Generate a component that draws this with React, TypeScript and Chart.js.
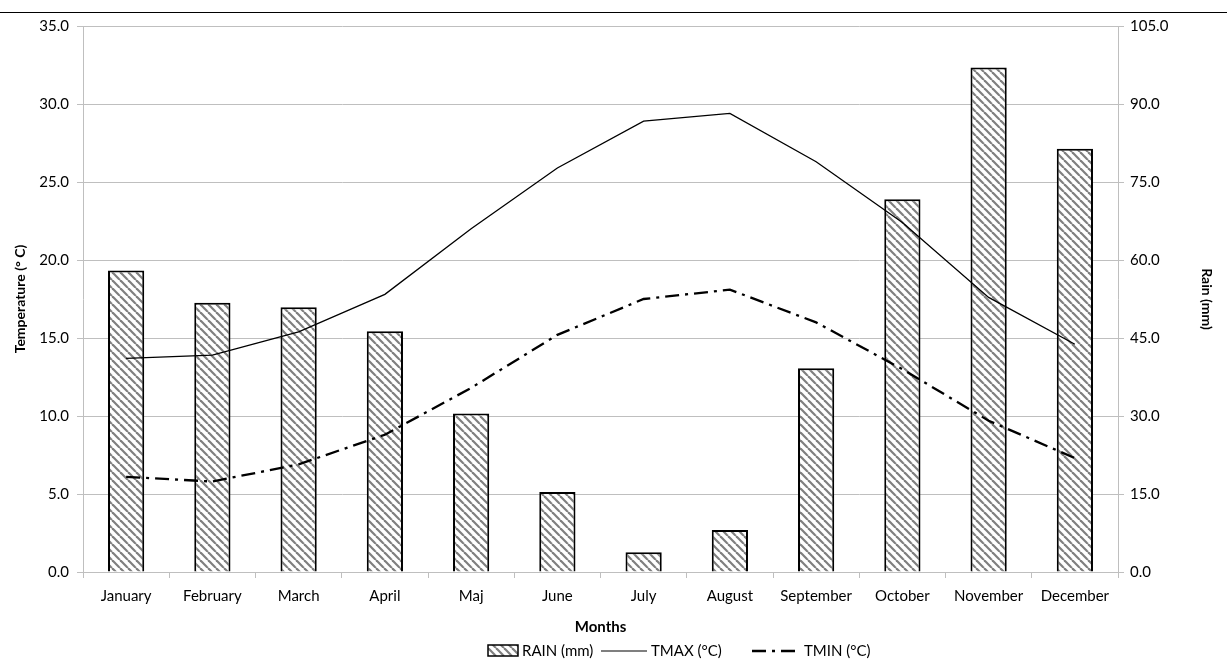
import React, { useEffect, useRef } from "react";
import { Chart, registerables } from "chart.js";
Chart.register(...registerables);

const months = ["January","February","March","April","Maj","June","July","August","September","October","November","December"];
const rain = [58.0, 51.8, 50.9, 46.3, 30.5, 15.4, 3.8, 8.1, 39.2, 71.7, 97.0, 81.4];
const tmax = [13.7, 13.9, 15.4, 17.8, 22.0, 25.9, 28.9, 29.4, 26.3, 22.4, 17.6, 14.6];
const tmin = [6.1, 5.8, 6.9, 8.8, 11.8, 15.2, 17.5, 18.1, 16.0, 13.0, 9.7, 7.3];

const FONT = "Lato, 'Open Sans', sans-serif";

function makePattern(): CanvasPattern | string {
  const c = document.createElement("canvas");
  c.width = 8; c.height = 8;
  const g = c.getContext("2d")!;
  g.fillStyle = "#fff"; g.fillRect(0, 0, 8, 8);
  g.strokeStyle = "#7f7f7f"; g.lineWidth = 2.2;
  for (const o of [-8, 0, 8]) { g.beginPath(); g.moveTo(o, 0); g.lineTo(o + 8, 8); g.stroke(); }
  return g.createPattern(c, "repeat") || "#999";
}

export default function App() {
  const ref = useRef<HTMLCanvasElement>(null);
  useEffect(() => {
    const pat = makePattern();
    const legendPlugin = {
      id: "customLegend",
      afterDraw(chart: any) {
        const ctx = chart.ctx;
        ctx.save();
        const y = 651;
        ctx.font = `15px ${FONT}`;
        ctx.textBaseline = "middle";
        ctx.fillStyle = pat; ctx.fillRect(488, 645, 30, 11);
        ctx.strokeStyle = "#000"; ctx.lineWidth = 1.5; ctx.strokeRect(488, 645, 30, 11);
        ctx.fillStyle = "#000"; ctx.fillText("RAIN (mm)", 522, y);
        ctx.lineWidth = 1.2; ctx.beginPath(); ctx.moveTo(601, y); ctx.lineTo(647, y); ctx.stroke();
        ctx.fillText("TMAX (°C)", 651, y);
        ctx.lineWidth = 2.5; ctx.setLineDash([14, 6, 3, 6]); ctx.beginPath(); ctx.moveTo(752, y); ctx.lineTo(800, y); ctx.stroke();
        ctx.setLineDash([]);
        ctx.fillText("TMIN (°C)", 804, y);
        ctx.restore();
      },
    };
    const chart = new Chart(ref.current!, {
      data: {
        labels: months,
        datasets: [
          { type: "line", label: "TMAX (°C)", data: tmax, yAxisID: "y", borderColor: "#000", borderWidth: 1.3, pointRadius: 0, tension: 0, order: 1 },
          { type: "line", label: "TMIN (°C)", data: tmin, yAxisID: "y", borderColor: "#000", borderWidth: 2.3, borderDash: [14, 6, 3, 6], pointRadius: 0, tension: 0, order: 2 },
          { type: "bar", label: "RAIN (mm)", data: rain, yAxisID: "y1", backgroundColor: pat as any, borderColor: "#000", borderWidth: 2, barPercentage: 0.42, categoryPercentage: 1, order: 3 },
        ],
      },
      options: {
        responsive: false, animation: false,
        layout: { padding: { left: 8, right: 8, top: 26, bottom: 0 } },
        plugins: { legend: { display: false }, tooltip: { enabled: false } },
        scales: {
          x: {
            offset: true,
            grid: { drawOnChartArea: false, offset: true, tickLength: 6, color: "#bfbfbf" },
            border: { color: "#bfbfbf" },
            ticks: { color: "#000", font: { family: FONT, size: 15 }, maxRotation: 0, autoSkip: false, padding: 9 },
            title: { display: true, text: "Months", color: "#000", font: { family: FONT, size: 15, weight: "bold" }, padding: { top: 4, bottom: 25 } },
          },
          y: {
            position: "left", min: 0, max: 35,
            ticks: { stepSize: 5, color: "#000", font: { family: FONT, size: 15 }, callback: (v: any) => Number(v).toFixed(1), padding: 8 },
            grid: { color: "#bfbfbf", tickLength: 6 },
            border: { color: "#bfbfbf" },
            title: { display: true, text: "Temperature (° C)", color: "#000", font: { family: FONT, size: 14, weight: "bold" } },
            afterFit: (s: any) => { s.width = 75; },
          },
          y1: {
            position: "right", min: 0, max: 105,
            ticks: { stepSize: 15, color: "#000", font: { family: FONT, size: 15 }, callback: (v: any) => Number(v).toFixed(1), padding: 6 },
            grid: { drawOnChartArea: false, color: "#bfbfbf", tickLength: 6 },
            border: { color: "#bfbfbf" },
            title: { display: true, text: "Rain (mm)", color: "#000", font: { family: FONT, size: 14, weight: "bold" } },
            afterFit: (s: any) => { s.width = 101; },
          },
        },
      },
      plugins: [legendPlugin],
    } as any);
    return () => chart.destroy();
  }, []);
  return (
    <div style={{ position: "fixed", left: 0, top: 0, width: 1227, height: 661, background: "#fff" }}>
      <div style={{ position: "absolute", left: 0, top: 12, width: 1227, height: 0, borderTop: "1.5px solid #000" }} />
      <canvas ref={ref} width={1227} height={661} style={{ position: "absolute", left: 0, top: 0 }} />
    </div>
  );
}
